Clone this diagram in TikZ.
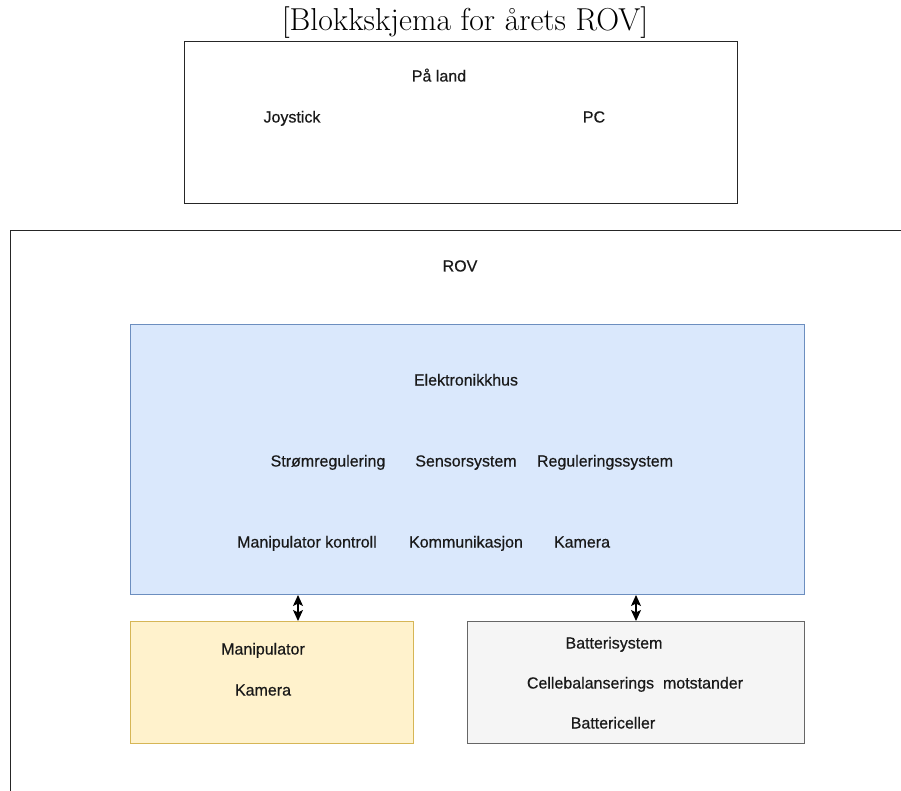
\documentclass[tikz,border=0pt]{standalone}
\usepackage{fontspec}
\newfontfamily\lblfont{Liberation Sans}[FakeBold=0.5]
\usetikzlibrary{arrows.meta}
\definecolor{bluefill}{HTML}{DAE8FC}
\definecolor{blueline}{HTML}{6C8EBF}
\definecolor{yelfill}{HTML}{FFF2CC}
\definecolor{yelline}{HTML}{D6B656}
\definecolor{grayfill}{HTML}{F5F5F5}
\definecolor{grayline}{HTML}{666666}
\tikzset{
  lbl/.style={font=\lblfont\fontsize{16}{19}\selectfont, text=black!90, inner sep=0pt, text height=11pt, text depth=0pt},
  box/.style={draw, line width=1pt, inner sep=0pt, anchor=north west},
  link/.style={{Stealth[length=11pt,width=10pt,inset=2.5pt]}-{Stealth[length=11pt,width=10pt,inset=2.5pt]}, line width=1.2pt},
}
\begin{document}
\begin{tikzpicture}[x=1pt,y=-1pt]
\useasboundingbox (0,0) rectangle (901,791);
\clip (0,0) rectangle (901,791);
\fill[white] (0,0) rectangle (901,791);
% title
\node[font=\fontsize{31.7}{38}\selectfont, inner sep=0pt] (title) at (465,23) {[Blokkskjema for årets ROV]};
% top box
\node[box, draw=black!85, minimum width=553pt, minimum height=162pt] (land) at (184,41) {};
\node[lbl] (paland) at (439,76) {På land};
\node[lbl] (joy) at (292,117) {Joystick};
\node[lbl] (pc) at (594,117) {PC};
% ROV box
\node[box, draw=black!85, minimum width=1000pt, minimum height=700pt] (rov) at (10,230) {};
\node[lbl] (rovt) at (460,266) {ROV};
% electronics housing
\node[box, draw=blueline, fill=bluefill, minimum width=674pt, minimum height=270pt] (elek) at (130,324) {};
\node[lbl] (elekt) at (466,380) {Elektronikkhus};
\node[lbl] (strom) at (328,461) {Strømregulering};
\node[lbl] (sens) at (466,461) {Sensorsystem};
\node[lbl] (reg) at (605,461) {Reguleringssystem};
\node[lbl] (manik) at (307,542) {Manipulator kontroll};
\node[lbl] (komm) at (466,542) {Kommunikasjon};
\node[lbl] (kam) at (582,542) {Kamera};
% manipulator box
\node[box, draw=yelline, fill=yelfill, minimum width=283pt, minimum height=122pt] (mani) at (130,621) {};
\node[lbl] (manit) at (263,649) {Manipulator};
\node[lbl] (kamt) at (263,690) {Kamera};
% battery box
\node[box, draw=grayline, fill=grayfill, minimum width=337pt, minimum height=122pt] (batt) at (467,621) {};
\node[lbl] (batts) at (614,643) {Batterisystem};
\node[lbl] (cell) at (635,683) {Cellebalanserings\ \ motstander};
\node[lbl] (battc) at (613,723) {Battericeller};
% connectors
\coordinate (c1) at (298,0);
\coordinate (c2) at (636,0);
\draw[link] (elek.south -| c1) -- (mani.north -| c1);
\draw[link] (elek.south -| c2) -- (batt.north -| c2);
\end{tikzpicture}
\end{document}
